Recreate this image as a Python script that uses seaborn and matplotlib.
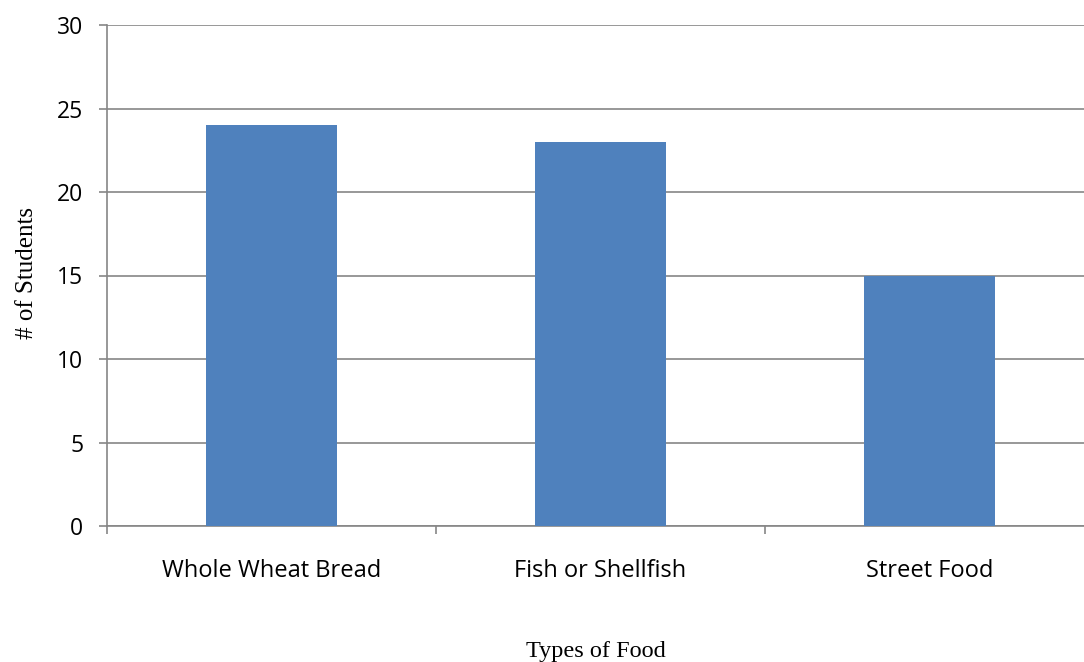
import matplotlib
matplotlib.use("Agg")
import matplotlib.pyplot as plt
import seaborn as sns
import pandas as pd
import numpy as np

categories = ["Whole Wheat Bread", "Fish or Shellfish", "Street Food"]
students = [24, 23, 15]
y_ticks = [0, 5, 10, 15, 20, 25, 30]

sns.set_theme(style="white")
plt.rcParams["font.family"] = ["Open Sans", "DejaVu Sans"]
plt.rcParams["xtick.bottom"] = True
plt.rcParams["ytick.left"] = True

df = pd.DataFrame({"food": categories, "students": students})

fig = plt.figure(figsize=(10.84, 6.62), dpi=100)
ax = fig.add_axes([107 / 1084, 1 - 526 / 662, (1094 - 107) / 1084, (526 - 25) / 662])

grid_color = "#868686"
sns.barplot(data=df, x="food", y="students", color="#4F81BD", saturation=1,
            width=0.4, edgecolor="none", linewidth=0, ax=ax, zorder=3)

ax.set_xlim(-0.5, len(categories) - 0.5)
ax.set_ylim(0, 30)
ax.set_yticks(y_ticks)
ax.set_yticklabels([str(t) for t in y_ticks], fontsize=16.5, color="black")
ax.yaxis.grid(True, color=grid_color, linewidth=1.2, zorder=0)
ax.set_axisbelow(True)

# category labels centred under bars, tick marks at category boundaries
ax.set_xticks(range(len(categories)))
ax.set_xticklabels(categories, fontsize=17, color="black")
ax.tick_params(axis="x", which="major", length=0, pad=24)
ax.set_xticks(np.arange(len(categories) + 1) - 0.5, minor=True)
ax.tick_params(axis="x", which="minor", bottom=True, length=6, width=1.2,
               color=grid_color, direction="out")
ax.tick_params(axis="y", left=True, length=6, width=1.2, color=grid_color,
               direction="out", pad=11)

for side in ["top", "right"]:
    ax.spines[side].set_visible(False)
for side in ["left", "bottom"]:
    ax.spines[side].set_color(grid_color)
    ax.spines[side].set_linewidth(1.2)

ax.set_xlabel("")
ax.set_ylabel("")
fig.text(596 / 1084, 1 - 652 / 662, "Types of Food", family="Liberation Serif",
         fontsize=17.5, ha="center", va="center", color="black")
fig.text(27 / 1084, 1 - 273 / 662, "# of Students", family="Liberation Serif",
         fontsize=18, ha="center", va="center", rotation=90, color="black")

fig.savefig("out.png", dpi=100, facecolor="white")
